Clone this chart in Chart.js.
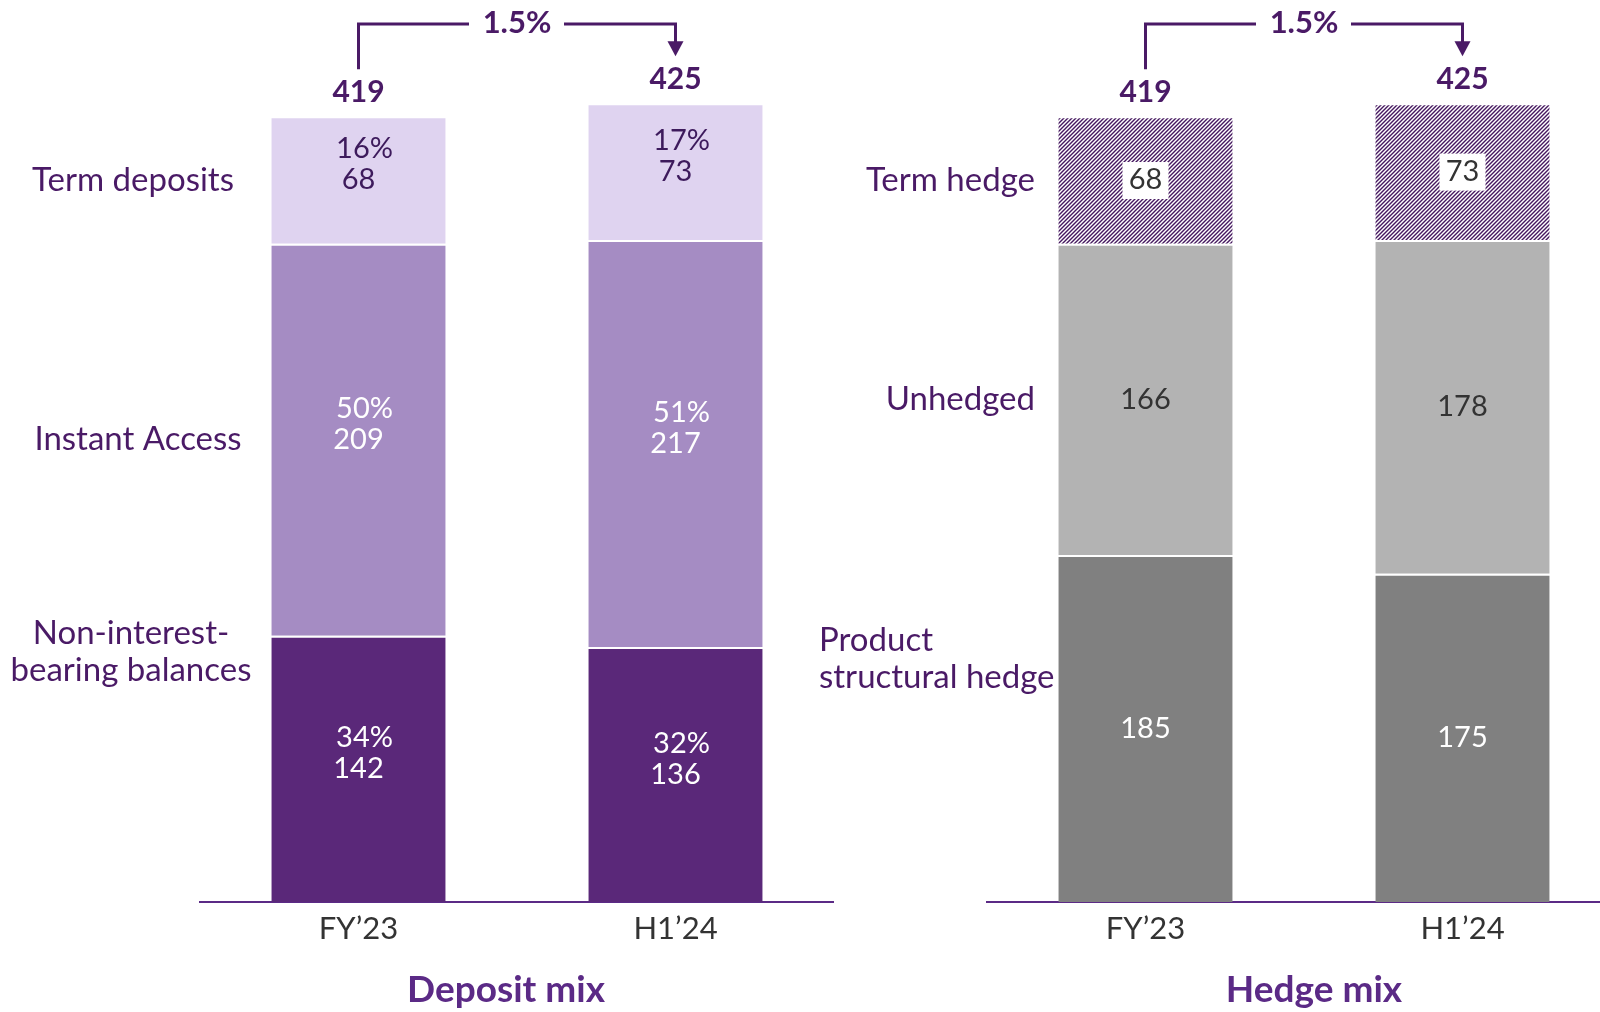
<!DOCTYPE html>
<html>
<head>
<meta charset="utf-8">
<script src="https://cdn.jsdelivr.net/npm/chart.js@4.4.1/dist/chart.umd.min.js"></script>
<style>
  html, body { margin: 0; padding: 0; background: #fff; overflow: hidden; }
  #wrap { position: relative; width: 1600px; height: 1012px; overflow: hidden; }
  canvas { position: absolute; top: 0; }
</style>
</head>
<body>
<div id="wrap">
  <canvas id="deposit" width="834" height="1012" style="left:0px"></canvas>
  <canvas id="hedge" width="831" height="1012" style="left:790px"></canvas>
</div>
<script>
const periods = ["FY’23", "H1’24"];

// Deposit mix (£bn) and share of total
const nonInterest = [142, 136];
const instantAccess = [209, 217];
const termDeposits = [68, 73];
const nonInterestPct = [34, 32];
const instantPct = [50, 51];
const termPct = [16, 17];
const depositTotals = [419, 425];

// Hedge mix (£bn)
const productHedge = [185, 175];
const unhedged = [166, 178];
const termHedge = [68, 73];
const hedgeTotals = [419, 425];

const growthLabel = "1.5%";

const TEXT_PURPLE = "#4a1a66";
const TITLE_PURPLE = "#5b2a86";
const FONT = "Lato, 'Noto Sans', sans-serif";

function hatchPattern() {
  const c = document.createElement("canvas");
  c.width = 4; c.height = 4;
  const g = c.getContext("2d");
  g.fillStyle = "#fff";
  g.fillRect(0, 0, 4, 4);
  g.strokeStyle = "#45175f";
  g.lineWidth = 1.4;
  g.beginPath();
  g.moveTo(0, 4); g.lineTo(4, 0);
  g.moveTo(-1, 1); g.lineTo(1, -1);
  g.moveTo(3, 5); g.lineTo(5, 3);
  g.stroke();
  return g.createPattern(c, "repeat");
}

// draws labels, totals, growth arrow and title for one panel
function annotations(cfg) {
  return {
    id: "annot",
    afterDatasetsDraw(chart) {
      const ctx = chart.ctx;
      const area = chart.chartArea;
      ctx.save();
      ctx.textAlign = "center";
      ctx.textBaseline = "middle";

      // values inside bars
      cfg.series.forEach((s, i) => {
        chart.getDatasetMeta(i).data.forEach((el, j) => {
          const mid = (el.y + el.base) / 2;
          ctx.font = "29px " + FONT;
          if (s.boxed) {
            ctx.fillStyle = "#fff";
            ctx.fillRect(el.x - 23, mid - 18, 46, 37);
          }
          ctx.fillStyle = s.text;
          if (s.pct) {
            ctx.fillText(s.pct[j] + "%", el.x + 6, mid - 31);
          }
          ctx.fillText(String(s.data[j]), el.x, mid);
        });

        // side label next to first bar
        const first = chart.getDatasetMeta(i).data[0];
        const mid = (first.y + first.base) / 2 + s.labelDy;
        ctx.font = "33px " + FONT;
        ctx.fillStyle = TEXT_PURPLE;
        ctx.textAlign = s.labelAlign;
        s.label.forEach((line, k) => {
          const y = mid + (k - (s.label.length - 1) / 2) * 37;
          ctx.fillText(line, s.labelX, y);
        });
        ctx.textAlign = "center";
      });

      // totals above stacks
      const top = chart.getDatasetMeta(cfg.series.length - 1).data;
      ctx.font = "bold 30px " + FONT;
      ctx.fillStyle = TEXT_PURPLE;
      top.forEach((el, j) => ctx.fillText(String(cfg.totals[j]), el.x, el.y - 24));

      // growth arrow
      const x0 = top[0].x, x1 = top[1].x, midX = (x0 + x1) / 2;
      const lineY = 24;
      const start = top[0].y - 47;
      const tip = top[1].y - 47;
      ctx.strokeStyle = TEXT_PURPLE;
      ctx.lineWidth = 3;
      ctx.beginPath();
      ctx.moveTo(x0, start);
      ctx.lineTo(x0, lineY);
      ctx.lineTo(midX - 48, lineY);
      ctx.moveTo(midX + 47, lineY);
      ctx.lineTo(x1, lineY);
      ctx.lineTo(x1, tip - 12);
      ctx.stroke();
      ctx.fillStyle = TEXT_PURPLE;
      ctx.beginPath();
      ctx.moveTo(x1 - 8, tip - 15);
      ctx.lineTo(x1 + 8, tip - 15);
      ctx.lineTo(x1, tip);
      ctx.closePath();
      ctx.fill();
      ctx.font = "bold 31px " + FONT;
      ctx.fillText(growthLabel, midX, lineY - 1);

      // panel title
      ctx.font = "bold 37px " + FONT;
      ctx.fillStyle = TITLE_PURPLE;
      ctx.fillText(cfg.title, (area.left + area.right) / 2 + cfg.titleDx, 990);
      ctx.restore();
    }
  };
}

function makeChart(id, cfg, padLeft) {
  return new Chart(document.getElementById(id), {
    type: "bar",
    data: {
      labels: periods,
      datasets: cfg.series.map((s) => ({
        label: s.label.join(" "),
        data: s.data,
        backgroundColor: s.color,
        borderColor: "#fff",
        borderWidth: { top: 2, left: 0, right: 0, bottom: 0 },
        borderSkipped: false,
        categoryPercentage: 0.55,
        barPercentage: 1
      }))
    },
    options: {
      responsive: false,
      animation: false,
      layout: { padding: { left: padLeft, right: 0, top: 0, bottom: 0 } },
      plugins: { legend: { display: false }, tooltip: { enabled: false } },
      scales: {
        x: {
          stacked: true,
          grid: { display: true, drawOnChartArea: false, drawTicks: false },
          border: { color: "#5b2a86", width: 2 },
          ticks: { color: "#333", font: { family: FONT, size: 31 }, padding: 8 },
          afterFit: (s) => { s.height = 110; }
        },
        y: { stacked: true, display: false, min: 0, max: 481 }
      }
    },
    plugins: [annotations(cfg)]
  });
}

makeChart("deposit", {
  title: "Deposit mix",
  titleDx: -11,
  totals: depositTotals,
  series: [
    { label: ["Non-interest-", "bearing balances"], data: nonInterest, pct: nonInterestPct,
      color: "#5a2879", text: "#fff", labelX: 131, labelAlign: "center", labelDy: -117 },
    { label: ["Instant Access"], data: instantAccess, pct: instantPct,
      color: "#a58cc3", text: "#fff", labelX: 138, labelAlign: "center", labelDy: 0 },
    { label: ["Term deposits"], data: termDeposits, pct: termPct,
      color: "#dfd3f0", text: "#3d1a5c", labelX: 133, labelAlign: "center", labelDy: 0 }
  ]
}, 200);

makeChart("hedge", {
  title: "Hedge mix",
  titleDx: 10,
  totals: hedgeTotals,
  series: [
    { label: ["Product", "structural hedge"], data: productHedge,
      color: "#808080", text: "#fff", labelX: 29, labelAlign: "left", labelDy: -70 },
    { label: ["Unhedged"], data: unhedged,
      color: "#b3b3b3", text: "#333", labelX: 245, labelAlign: "right", labelDy: 0 },
    { label: ["Term hedge"], data: termHedge, boxed: true,
      color: hatchPattern(), text: "#333", labelX: 245, labelAlign: "right", labelDy: 0 }
  ]
}, 197);
</script>
</body>
</html>
